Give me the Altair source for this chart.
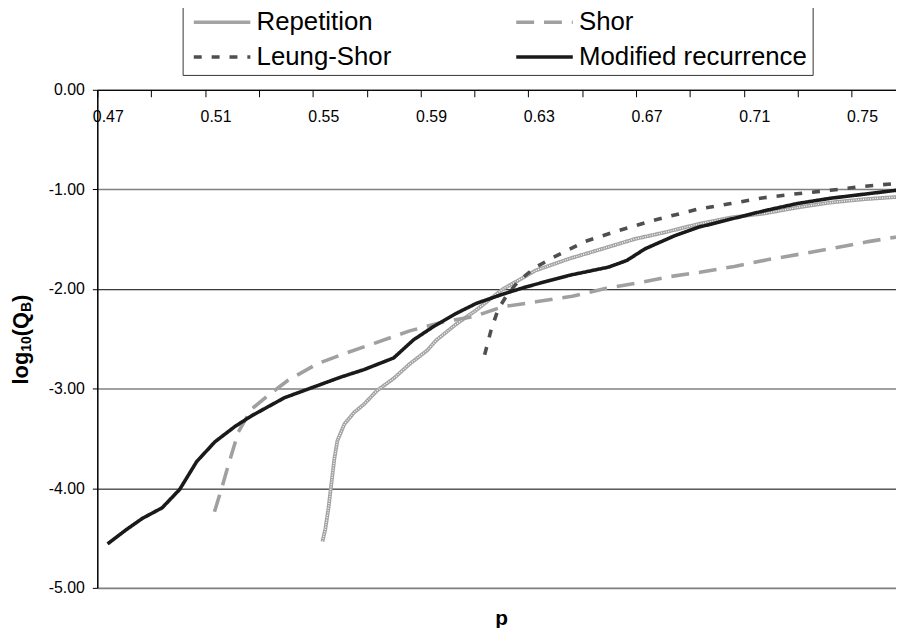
import altair as alt
import pandas as pd

series_names = ["Repetition", "Shor", "Leung-Shor", "Modified recurrence"]

p_repetition = [0.5486, 0.5497, 0.5508, 0.5519, 0.5530, 0.5541, 0.5567, 0.5603, 0.5640, 0.5689,
                0.5750, 0.5811, 0.5873, 0.5910, 0.5983, 0.6057, 0.6155, 0.6278, 0.6401, 0.6524,
                0.6646, 0.6757, 0.6880, 0.7002, 0.7125, 0.7248, 0.7371, 0.7494, 0.7616]
q_repetition = [-4.535, -4.402, -4.203, -3.954, -3.705, -3.526, -3.357, -3.240, -3.157, -3.018,
                -2.898, -2.749, -2.620, -2.510, -2.351, -2.211, -2.002, -1.813, -1.696, -1.597,
                -1.497, -1.431, -1.348, -1.282, -1.242, -1.182, -1.132, -1.099, -1.076]

p_shor = [0.5085, 0.5112, 0.5136, 0.5173, 0.5222, 0.5284, 0.5357, 0.5468, 0.5567, 0.5678,
          0.5810, 0.5934, 0.6045, 0.6155, 0.6278, 0.6413, 0.6536, 0.6658, 0.6781, 0.6892,
          0.7015, 0.7137, 0.7266, 0.7389, 0.7512, 0.7615]
q_shor = [-4.236, -3.997, -3.772, -3.439, -3.207, -3.068, -2.918, -2.749, -2.649, -2.545,
          -2.420, -2.331, -2.278, -2.178, -2.128, -2.072, -1.995, -1.939, -1.873, -1.830,
          -1.773, -1.706, -1.646, -1.587, -1.524, -1.479]

p_leung = [0.6088, 0.6112, 0.6137, 0.6174, 0.6217, 0.6278, 0.6340, 0.6462, 0.6585, 0.6708,
           0.6880, 0.7002, 0.7125, 0.7248, 0.7371, 0.7494, 0.7615]
q_leung = [-2.659, -2.410, -2.211, -2.045, -1.912, -1.780, -1.686, -1.521, -1.414, -1.315,
           -1.198, -1.142, -1.083, -1.043, -1.009, -0.969, -0.941]

p_modified = [0.4688, 0.4756, 0.4817, 0.4891, 0.4956, 0.5019, 0.5087, 0.5161, 0.5222, 0.5345,
              0.5456, 0.5553, 0.5640, 0.5750, 0.5824, 0.5898, 0.5983, 0.6057, 0.6155, 0.6241,
              0.6401, 0.6548, 0.6616, 0.6683, 0.6794, 0.6880, 0.7002, 0.7125, 0.7248, 0.7371,
              0.7493, 0.7616]
q_modified = [-4.559, -4.419, -4.303, -4.196, -4.011, -3.732, -3.533, -3.380, -3.274, -3.091,
              -2.981, -2.885, -2.809, -2.692, -2.510, -2.377, -2.244, -2.144, -2.052, -1.979,
              -1.863, -1.780, -1.713, -1.597, -1.464, -1.381, -1.298, -1.215, -1.142, -1.089,
              -1.049, -1.009]

y_tick_values = [-5, -4, -3, -2, -1, 0]
x_tick_marks = [round(0.465 + 0.02 * k, 3) for k in range(15)]
x_tick_labels = [round(0.47 + 0.04 * k, 2) for k in range(8)]

rows = []
for name, ps, qs in [("Repetition", p_repetition, q_repetition),
                     ("Shor", p_shor, q_shor),
                     ("Leung-Shor", p_leung, q_leung),
                     ("Modified recurrence", p_modified, q_modified)]:
    for i, (p, q) in enumerate(zip(ps, qs)):
        rows.append({"series": name, "p": p, "q": q, "order": i})
df = pd.DataFrame(rows)

W, H = 805, 502
X_MIN, X_MAX = 0.465, 0.7615
FONT = "Liberation Sans"

x_axis = alt.Axis(
    orient="bottom", offset=-H,
    values=sorted(set(x_tick_marks + x_tick_labels)),
    labelExpr="(round(datum.value*1000) - 470) % 40 == 0 ? format(datum.value, '.2f') : ''",
    tickOpacity={"condition": {"test": "(round(datum.value*1000) - 465) % 20 == 0", "value": 1}, "value": 0},
    tickSize=7, tickColor="black", tickWidth=1,
    domainColor="black", domainWidth=1,
    labelFont=FONT, labelFontSize=16, labelColor="black", labelPadding=12,
    labelOffset=-3, labelOverlap=False, labelFlush=False, labelBound=False,
    grid=False, title=None,
)
y_axis = alt.Axis(
    values=y_tick_values,
    labelExpr="(datum.value < 0 ? '-' : '') + format(abs(datum.value), '.2f')",
    tickSize=5, tickColor="black", domainColor="black", domainWidth=1.5,
    labelFont=FONT, labelFontSize=16, labelColor="black", labelPadding=8,
    labelOverlap=False,
    grid=True,
    gridColor={"condition": {"test": "datum.value % 2 == 0", "value": "#000000"}, "value": "#808080"},
    gridWidth={"condition": {"test": "datum.value % 2 == 0", "value": 1}, "value": 1.6},
    title=None,
)

# legend symbol: a 57px horizontal stroke drawn by a custom path at a small nominal size
legend = alt.Legend(
    orient="none", legendX=86, legendY=-86, columns=2, direction="horizontal", title=None,
    symbolType="M-1.35,0H10.05", symbolSize=100, symbolStrokeWidth=3.5,
    labelFont=FONT, labelFontSize=26,
    labelColor="black", labelOffset=43.5, labelLimit=500, rowPadding=9, columnPadding=118,
    padding=5, strokeColor="#333333", fillColor="white", gridAlign="each",
)

colors = ["#a3a3a3", "#a0a0a0", "#4f4f4f", "#1a1a1a"]
dashes = [[1, 0], [18, 10], [8, 10], [1, 0]]

x_enc = alt.X("p:Q", scale=alt.Scale(domain=[X_MIN, X_MAX], nice=False, zero=False), axis=x_axis)
y_enc = alt.Y("q:Q", scale=alt.Scale(domain=[-5, 0], nice=False, zero=False), axis=y_axis)
enc = dict(
    x=x_enc, y=y_enc, order="order:Q",
    color=alt.Color("series:N", scale=alt.Scale(domain=series_names, range=colors), legend=legend),
    strokeDash=alt.StrokeDash("series:N", scale=alt.Scale(domain=series_names, range=dashes), legend=legend),
)

rep_layer = alt.Chart(df).transform_filter(alt.datum.series == "Repetition").mark_line(
    clip=True, strokeJoin="round", strokeCap="butt", strokeWidth=3.8).encode(**enc)
rep_texture = alt.Chart(df).transform_filter(alt.datum.series == "Repetition").mark_line(
    clip=True, color="white", strokeWidth=1.3, strokeDash=[1, 1.4]).encode(
    x=x_enc, y=y_enc, order="order:Q")
other_layer = alt.Chart(df).transform_filter(alt.datum.series != "Repetition").mark_line(
    clip=True, strokeJoin="round", strokeCap="butt", strokeWidth=3.6).encode(**enc)

# y-axis title built from pieces: log10(QB) with subscripts
pieces = [("log", 22, -70, 1.5), ("10", 14, -67, 1.112), ("(Q", 22, -70, 1.111),
          ("B", 14, -67, 0.722), (")", 22, -70, 0.333)]
title_layers = []
ypos = 297
for text, size, xb, em in pieces:
    title_layers.append(
        alt.Chart(pd.DataFrame({"t": [text]})).mark_text(
            angle=270, align="left", baseline="alphabetic", font=FONT, fontSize=size,
            fontWeight="bold", color="black").encode(
            text="t:N", x=alt.value(xb), y=alt.value(ypos))
    )
    ypos -= em * size

chart = alt.layer(rep_layer, rep_texture, other_layer, *title_layers).properties(
    width=W, height=H,
    title=alt.TitleParams("p", orient="bottom", anchor="middle", frame="group", font=FONT,
                          fontSize=21, fontWeight="bold", color="black", baseline="top",
                          offset=12, dx=5),
    autosize=alt.AutoSizeParams(type="none"),
    padding={"left": 90, "top": 80, "right": 0, "bottom": 38},
).configure_view(stroke=None).configure_axis(labelOverlap=False).configure(background="white")

chart.save("out.html", embed_options={"renderer": "svg", "actions": False})
